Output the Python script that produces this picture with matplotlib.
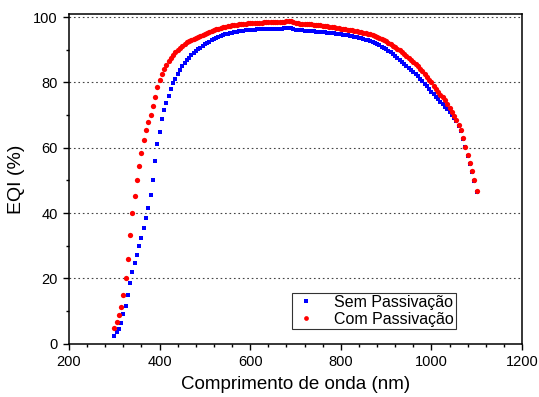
import numpy as np
import matplotlib
matplotlib.use("Agg")
import matplotlib.pyplot as plt
from matplotlib.ticker import MultipleLocator

plt.rcParams['font.family'] = ['Liberation Sans', 'DejaVu Sans']

# comprimento de onda, 300..1100 nm a cada 5 nm
wavelength = np.arange(300, 1101, 5)

# Sem Passivacao (azul)
sem_passivacao = [
    2.4, 3.5, 4.6, 6.4, 9.0, 11.6, 14.9, 18.7, 22.0, 24.8,
    27.2, 29.8, 32.4, 35.3, 38.4, 41.7, 45.6, 50.3, 56.0, 61.1,
    64.9, 68.7, 71.5, 73.8, 76.0, 78.0, 79.7, 81.2, 82.6, 83.8,
    84.9, 85.9, 86.8, 87.6, 88.3, 88.9, 89.5, 90.1, 90.7, 91.2,
    91.7, 92.1, 92.5, 92.9, 93.3, 93.6, 93.9, 94.2, 94.5, 94.7,
    94.9, 95.1, 95.3, 95.4, 95.6, 95.7, 95.8, 95.9, 96.0, 96.1,
    96.1, 96.2, 96.2, 96.3, 96.3, 96.3, 96.4, 96.4, 96.4, 96.4,
    96.5, 96.5, 96.5, 96.5, 96.5, 96.6, 96.7, 96.8, 96.8, 96.5,
    96.2, 96.1, 96.0, 96.0, 95.9, 95.8, 95.8, 95.7, 95.7, 95.6,
    95.6, 95.5, 95.4, 95.4, 95.3, 95.2, 95.1, 95.0, 94.9, 94.8,
    94.7, 94.6, 94.5, 94.4, 94.3, 94.2, 94.0, 93.9, 93.7, 93.5,
    93.3, 93.1, 92.9, 92.6, 92.3, 92.0, 91.7, 91.4, 91.0, 90.6,
    90.2, 89.7, 89.2, 88.7, 88.1, 87.5, 86.9, 86.3, 85.7, 85.1,
    84.5, 83.9, 83.3, 82.7, 82.0, 81.2, 80.4, 79.6, 78.8, 78.0,
    77.2, 76.4, 75.6, 74.8, 74.0, 73.3, 72.6, 71.8, 71.0, 70.1,
    69.2, 68.2, 66.8, 65.2, 62.7, 60.1, 57.6, 55.1, 52.6, 49.9,
    46.6,
]

# Com Passivacao (vermelho)
com_passivacao = [
    4.7, 6.6, 8.7, 11.3, 14.8, 20.0, 26.1, 33.2, 39.9, 45.3,
    50.1, 54.4, 58.3, 62.3, 65.4, 67.9, 70.2, 72.8, 75.6, 78.6,
    80.7, 82.6, 84.0, 85.3, 86.5, 87.5, 88.4, 89.2, 89.9, 90.6,
    91.2, 91.8, 92.3, 92.7, 93.1, 93.4, 93.7, 94.0, 94.3, 94.6,
    94.9, 95.2, 95.5, 95.8, 96.0, 96.3, 96.5, 96.7, 96.9, 97.1,
    97.2, 97.4, 97.5, 97.6, 97.7, 97.8, 97.9, 98.0, 98.0, 98.1,
    98.1, 98.2, 98.2, 98.3, 98.3, 98.3, 98.4, 98.4, 98.4, 98.4,
    98.5, 98.5, 98.5, 98.5, 98.5, 98.6, 98.7, 98.8, 98.8, 98.5,
    98.2, 98.1, 98.0, 98.0, 97.9, 97.9, 97.8, 97.8, 97.7, 97.6,
    97.6, 97.5, 97.4, 97.3, 97.2, 97.1, 97.0, 96.9, 96.7, 96.6,
    96.5, 96.4, 96.3, 96.2, 96.1, 96.0, 95.9, 95.8, 95.6, 95.5,
    95.3, 95.1, 94.9, 94.7, 94.5, 94.2, 93.9, 93.6, 93.3, 93.0,
    92.6, 92.2, 91.8, 91.3, 90.8, 90.3, 89.8, 89.2, 88.6, 88.0,
    87.4, 86.8, 86.2, 85.6, 84.9, 84.2, 83.4, 82.6, 81.8, 80.9,
    80.0, 79.0, 78.0, 77.1, 76.3, 75.5, 74.5, 73.4, 72.2, 71.0,
    69.8, 68.4, 67.0, 65.4, 62.9, 60.3, 57.8, 55.3, 52.8, 50.0,
    46.7,
]

fig = plt.figure(figsize=(5.39, 3.97), dpi=100)
ax = fig.add_axes([0.128, 0.134, 0.8405, 0.831])

ax.plot(wavelength, sem_passivacao, 's', color='#0000ff', ms=3.4, mew=0,
        label='Sem Passivação')
ax.plot(wavelength, com_passivacao, 'o', color='#ff0000', ms=3.8, mew=0,
        label='Com Passivação')

ax.set_xlim(200, 1200)
ax.set_ylim(0, 101)
ax.xaxis.set_major_locator(MultipleLocator(200))
ax.xaxis.set_minor_locator(MultipleLocator(40))
ax.yaxis.set_major_locator(MultipleLocator(20))
ax.yaxis.set_minor_locator(MultipleLocator(10))

for yv in [20, 40, 60, 80, 100]:
    ax.axhline(yv, color='#444444', lw=0.8, ls=(0, (1.5, 2.5)), zorder=0)

ax.tick_params(which='major', direction='out', length=4.5, width=1.0,
               labelsize=10.5, top=False, right=False)
ax.tick_params(which='minor', direction='out', length=2.5, width=1.0,
               top=False, right=False)
for sp in ax.spines.values():
    sp.set_linewidth(1.1)

ax.set_xlabel('Comprimento de onda (nm)', fontsize=13.5, labelpad=5)
ax.set_ylabel('EQI (%)', fontsize=14, labelpad=6)

leg = ax.legend(loc='lower left', bbox_to_anchor=(0.492, 0.045),
                fontsize=11.5, frameon=True, fancybox=False,
                borderpad=0.15, labelspacing=0.1, handletextpad=1.0,
                handlelength=1.5, borderaxespad=0, markerscale=0.9)
leg.get_frame().set_edgecolor('black')
leg.get_frame().set_linewidth(0.8)

fig.savefig('out.png', dpi=100)
